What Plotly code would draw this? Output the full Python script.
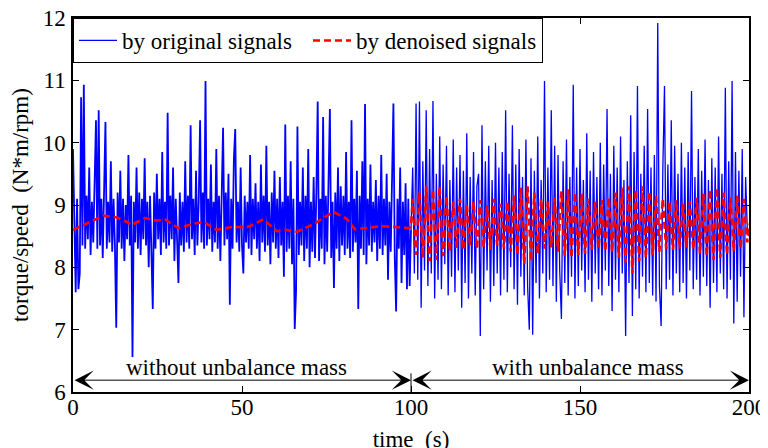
import numpy as np
import plotly.graph_objects as go

# ---------------- data ----------------
# original signal, 0-100 s (sampled every 0.4 s)
blue_a = [
    9.90, 8.40, 7.60, 9.10, 7.65, 7.90, 10.73, 8.35, 10.93, 8.30,
    9.15, 8.45, 9.60, 8.20, 9.05, 8.40, 9.20, 10.36, 8.30, 10.52,
    8.35, 9.10, 8.15, 9.45, 10.33, 8.30, 9.05, 8.40, 9.70, 8.25,
    9.10, 8.35, 7.03, 9.20, 8.40, 9.55, 8.30, 9.10, 8.10, 9.00,
    8.45, 9.80, 8.35, 9.15, 6.56, 9.05, 8.40, 9.60, 8.30, 9.20,
    8.20, 9.10, 8.45, 9.75, 8.35, 9.05, 8.00, 9.15, 8.40, 7.33,
    9.20, 8.30, 9.50, 8.45, 9.10, 8.20, 9.85, 8.40, 9.05, 8.30,
    10.48, 8.35, 9.15, 8.45, 9.60, 8.10, 9.10, 8.40, 7.75, 9.20,
    8.35, 9.05, 8.25, 9.70, 8.40, 9.15, 8.30, 10.28, 8.45, 9.10,
    8.20, 9.55, 8.35, 9.05, 10.36, 8.40, 9.20, 8.30, 10.99, 8.35,
    9.10, 8.45, 9.65, 8.25, 9.05, 8.40, 9.90, 8.30, 9.15, 8.10,
    9.05, 10.24, 8.35, 9.20, 8.45, 9.50, 7.40, 9.10, 8.30, 9.75,
    10.22, 8.40, 9.05, 8.25, 9.60, 8.35, 7.90, 9.15, 8.40, 9.05,
    8.30, 9.80, 8.20, 9.10, 8.45, 9.35, 8.30, 9.05, 8.10, 9.65,
    8.40, 9.15, 8.25, 9.95, 8.35, 9.05, 8.05, 9.20, 8.40, 9.55,
    8.30, 9.10, 8.15, 9.45, 8.35, 9.05, 7.85, 10.29, 8.25, 9.15,
    8.30, 9.70, 8.05, 9.10, 7.01, 7.63, 10.26, 8.20, 9.05, 8.35,
    9.60, 8.10, 9.15, 8.30, 9.90, 8.00, 9.05, 8.25, 9.45, 8.15,
    9.20, 10.66, 8.10, 9.10, 8.30, 10.41, 8.05, 9.15, 8.25, 9.75,
    10.54, 8.15, 9.05, 7.67, 9.20, 8.30, 9.60, 8.10, 9.30, 8.35,
    9.15, 8.20, 9.85, 8.30, 9.05, 8.15, 10.36, 8.25, 9.10, 8.40,
    9.55, 7.33, 9.15, 8.30, 9.70, 8.20, 10.62, 8.05, 9.10, 8.35,
    9.65, 8.25, 9.05, 8.40, 9.40, 8.10, 9.15, 8.30, 9.80, 8.20,
    9.10, 8.35, 9.50, 7.80, 9.05, 8.25, 9.20, 10.63, 8.15, 7.29,
    9.10, 8.30, 9.60, 7.75, 9.05, 8.20, 9.35, 7.65, 9.10, 7.70,
]
# original signal, 100-200 s (sampled every 0.5 s)
blue_b = [
    8.60, 9.60, 7.90, 10.63, 7.80, 10.66, 7.35, 9.70, 7.95, 10.52,
    7.70, 9.90, 7.90, 10.67, 7.50, 9.50, 7.80, 10.10, 7.65, 9.65,
    8.05, 9.95, 7.55, 9.40, 7.85, 10.05, 7.60, 9.60, 7.95, 9.80,
    7.35, 9.55, 7.75, 10.15, 7.50, 9.45, 7.90, 9.85, 7.55, 9.30,
    9.50, 6.90, 10.28, 7.65, 9.70, 7.95, 9.95, 7.45, 9.40, 7.70,
    10.00, 7.90, 9.60, 7.55, 9.85, 7.80, 10.52, 7.60, 9.50, 8.00,
    10.28, 7.65, 9.65, 7.40, 9.90, 7.85, 9.45, 7.55, 10.05, 7.70,
    7.00, 9.75, 6.92, 9.55, 7.75, 10.10, 7.50, 9.40, 7.90, 10.99,
    7.60, 9.60, 7.80, 10.52, 7.70, 9.95, 7.45, 9.80, 7.95, 7.17,
    9.70, 7.75, 10.05, 7.55, 9.45, 7.85, 10.93, 7.50, 9.60, 7.70,
    9.90, 7.95, 9.40, 7.60, 10.15, 7.80, 9.55, 7.45, 9.85, 7.90,
    9.45, 7.65, 10.00, 7.55, 9.65, 7.95, 10.54, 7.70, 9.50, 7.30,
    9.95, 7.80, 9.60, 7.60, 10.10, 7.90, 9.40, 6.90, 9.70, 7.75,
    10.44, 7.22, 9.85, 7.65, 10.91, 7.50, 9.50, 7.85, 9.95, 7.60,
    10.54, 7.75, 9.60, 7.55, 9.80, 7.45, 11.92, 7.70, 7.06, 9.55,
    10.91, 7.65, 9.65, 7.80, 10.36, 7.55, 9.95, 7.90, 9.50, 7.60,
    10.00, 7.75, 9.60, 7.50, 9.85, 7.95, 10.83, 7.65, 9.45, 7.80,
    9.90, 7.55, 9.55, 7.85, 10.05, 7.70, 9.40, 7.35, 9.75, 7.75,
    9.60, 7.60, 10.10, 7.90, 9.50, 7.65, 10.88, 7.50, 9.70, 7.80,
    10.99, 7.10, 9.85, 7.45, 9.55, 7.85, 9.90, 7.20, 9.45, 8.60,
    8.50,
]
# denoised signal, 0-100 s (key points)
red_a_t = [0, 3, 6, 9, 13, 15.5, 17.4, 21.3, 24.7, 27.2, 31.2, 35.6, 38.6, 42.5,
           47.4, 51.4, 56.3, 60.3, 63, 66.2, 71.1, 77.0, 81.0, 83.4, 86.8, 90.8,
           94.7, 99.2]
red_a = [8.60, 8.68, 8.76, 8.83, 8.80, 8.74, 8.68, 8.79, 8.75, 8.77, 8.63, 8.70,
         8.73, 8.60, 8.65, 8.64, 8.77, 8.58, 8.60, 8.57, 8.69, 8.89, 8.78, 8.61,
         8.63, 8.66, 8.65, 8.63]
# denoised signal, 100-200 s (sampled every 0.5 s)
red_b = [
    8.65, 9.10, 8.70, 8.20, 8.68, 9.20, 8.66, 8.15, 8.70, 9.30,
    8.68, 8.10, 8.72, 9.25, 8.66, 8.12, 8.70, 9.30, 8.65, 8.18,
    8.70, 9.15, 8.66, 8.25, 8.70, 9.05, 8.68, 8.30, 8.72, 9.10,
    8.64, 8.28, 8.70, 9.00, 8.66, 8.35, 8.70, 9.05, 8.68, 8.30,
    8.68, 9.08, 8.70, 8.32, 8.66, 9.00, 8.70, 8.28, 8.72, 9.10,
    8.66, 8.35, 8.70, 9.02, 8.68, 8.30, 8.70, 9.06, 8.66, 8.25,
    8.70, 9.15, 8.68, 8.20, 8.72, 9.28, 8.66, 8.05, 8.70, 9.30,
    8.68, 8.10, 8.70, 9.20, 8.66, 8.22, 8.70, 9.10, 8.68, 8.30,
    8.70, 9.05, 8.66, 8.32, 8.70, 9.12, 8.68, 8.25, 8.72, 9.22,
    8.66, 8.18, 8.70, 9.25, 8.68, 8.15, 8.70, 9.20, 8.66, 8.20,
    8.70, 9.18, 8.68, 8.22, 8.72, 9.10, 8.66, 8.28, 8.70, 9.05,
    8.68, 8.30, 8.70, 9.08, 8.66, 8.26, 8.70, 9.12, 8.68, 8.24,
    8.70, 9.20, 8.66, 8.15, 8.72, 9.28, 8.68, 8.08, 8.70, 9.30,
    8.66, 7.90, 8.70, 9.25, 8.68, 8.10, 8.72, 9.30, 8.66, 8.15,
    8.70, 9.22, 8.68, 8.20, 8.70, 9.15, 8.66, 8.25, 8.72, 9.10,
    8.68, 8.30, 8.70, 9.05, 8.66, 8.28, 8.70, 9.08, 8.68, 8.30,
    8.70, 9.02, 8.66, 8.32, 8.70, 9.06, 8.68, 8.28, 8.72, 9.12,
    8.66, 8.22, 8.70, 9.18, 8.68, 8.18, 8.70, 9.25, 8.66, 8.12,
    8.70, 9.28, 8.68, 8.15, 8.72, 9.20, 8.66, 8.20, 8.70, 9.12,
    8.68, 8.26, 8.70, 9.15, 8.66, 8.30, 8.70, 9.10, 8.68, 8.40,
    8.70,
]
sections = [(0, 100, "without unbalance mass"), (100, 200, "with unbalance mass")]
x_ticks = [0, 50, 100, 150, 200]
y_ticks = [6, 7, 8, 9, 10, 11, 12]

# sample times
blue_a_t = list(np.round(np.arange(len(blue_a)) * 0.4, 3))
blue_b_t = list(np.round(100 + np.arange(len(blue_b)) * 0.5, 3))
red_t = red_a_t + list(np.round(100 + np.arange(len(red_b)) * 0.5, 3))
red_v = red_a + red_b

SERIF = "Liberation Serif, Times New Roman, serif"
FS = 23
BLUE = "#0000ff"

fig = go.Figure()
# first half of the original signal (dense band) -- same series, legend shown on 2nd part
fig.add_trace(go.Scatter(x=blue_a_t + [blue_b_t[0]], y=blue_a + [blue_b[0]], mode="lines",
                         name="by original signals", legendgroup="orig", showlegend=False,
                         line=dict(color=BLUE, width=1.8)))
fig.add_trace(go.Scatter(x=blue_b_t, y=blue_b, mode="lines", name="by original signals",
                         legendgroup="orig", line=dict(color=BLUE, width=1.3)))
fig.add_trace(go.Scatter(x=red_t, y=red_v, mode="lines", name="by denoised signals",
                         line=dict(color="#ff0000", width=2.6, dash="7px,4px")))

axis_common = dict(showgrid=False, zeroline=False, ticks="inside", ticklen=6,
                   tickcolor="black", showline=True, linecolor="black", linewidth=1.5,
                   mirror="ticks", automargin=False, ticklabeloverflow="allow",
                   tickfont=dict(family=SERIF, size=FS, color="black"))
fig.update_xaxes(range=[0, 200], tickvals=x_ticks, ticktext=[str(v) for v in x_ticks],
                 ticklabelstandoff=-6,
                 title=dict(text="time\u00a0\u00a0(s)", font=dict(family=SERIF, size=FS, color="black"),
                            standoff=12),
                 **axis_common)
fig.update_yaxes(range=[6, 12], tickvals=y_ticks, ticktext=[str(v) for v in y_ticks],
                 ticklabelstandoff=1,
                 title=dict(text="torque/speed\u00a0\u00a0(N*m/rpm)",
                            font=dict(family=SERIF, size=FS, color="black"), standoff=19),
                 **axis_common)

# section arrows and labels
label_x = [48.4, 152.5]
for (a, b, label), lx in zip(sections, label_x):
    fig.add_annotation(x=b, y=6.19, ax=a, ay=6.19, xref="x", yref="y", axref="x", ayref="y",
                       text="", showarrow=True, arrowside="end+start", arrowhead=3,
                       arrowsize=3.2, arrowwidth=1, arrowcolor="black", standoff=0,
                       startstandoff=0)
    fig.add_annotation(x=lx, y=6.40, xref="x", yref="y", text=label,
                       showarrow=False, font=dict(family=SERIF, size=FS, color="black"))
fig.add_shape(type="line", x0=sections[0][1], x1=sections[0][1], y0=6, y1=6.3,
              xref="x", yref="y", line=dict(color="black", width=1))

# clipped header texts (cropped at the top edge of the picture)
fig.add_annotation(x=-0.1154, y=1.0495, xref="paper", yref="paper", xanchor="left",
                   yanchor="middle", text="<b>Wind Energy</b>", showarrow=False,
                   font=dict(family="Liberation Sans, Arial, sans-serif", size=16, color="#2a40b0"))
fig.add_annotation(x=0.3216, y=1.0802, xref="paper", yref="paper", xanchor="left",
                   yanchor="middle", text="<b>Energy Comparison</b>", showarrow=False,
                   font=dict(family="Liberation Sans, Arial, sans-serif", size=34, color="black"))

fig.update_layout(
    width=768, height=448,
    margin=dict(l=65, r=27, t=10, b=64, autoexpand=False),
    paper_bgcolor="white", plot_bgcolor="white",
    showlegend=True,
    legend=dict(orientation="h", x=0, y=1, xanchor="left", yanchor="top",
                bgcolor="white", bordercolor="black", borderwidth=1,
                font=dict(family=SERIF, size=FS, color="black"),
                itemwidth=38, traceorder="normal", entrywidth=181),
)

fig.write_html("out.html")
